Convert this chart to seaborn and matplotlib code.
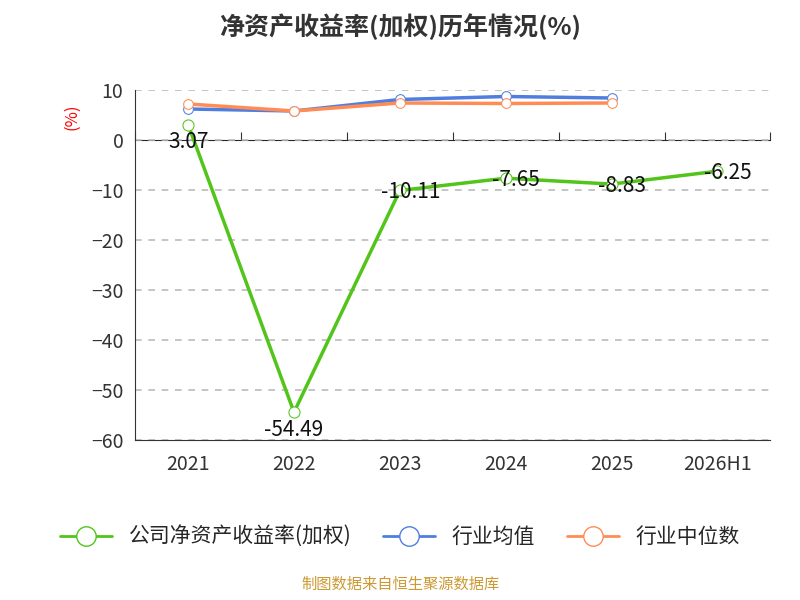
import matplotlib
matplotlib.use("Agg")
import matplotlib.pyplot as plt
import seaborn as sns
import pandas as pd
from matplotlib.lines import Line2D

years = ['2021', '2022', '2023', '2024', '2025', '2026H1']
company = [3.07, -54.49, -10.11, -7.65, -8.83, -6.25]
ind_mean = [6.2, 5.8, 8.1, 8.7, 8.4]
ind_median = [7.2, 5.8, 7.4, 7.3, 7.4]

sns.set_style('white')
plt.rcParams['font.family'] = ['Noto Sans CJK SC', 'DejaVu Sans']

fig = plt.figure(figsize=(8, 6), dpi=100)
ax = fig.add_axes([0.169, 0.267, 0.794, 0.583])

x = list(range(len(years)))
df = pd.DataFrame({'x': x, 'v': company})
sns.lineplot(data=df, x='x', y='v', ax=ax, color='#52c41a', lw=2.5, marker='o',
             markersize=8, markerfacecolor='white', markeredgecolor='#52c41a', zorder=3)
sns.lineplot(x=x[:5], y=ind_mean, ax=ax, color='#4e7fe0', lw=2.5, marker='o',
             markersize=7, markerfacecolor='white', markeredgecolor='#4e7fe0', zorder=3)
sns.lineplot(x=x[:5], y=ind_median, ax=ax, color='#ff8c55', lw=2.5, marker='o',
             markersize=7, markerfacecolor='white', markeredgecolor='#ff8c55', zorder=4)

for xi, v in zip(x, company):
    dy = -3.5 if xi in (0, 1) else -0.3
    ax.text(xi + 0.1 * (xi > 1), v + dy, f'{v:.2f}', ha='center', va='center',
            fontsize=15, color='#111111', zorder=5)

ax.set_xlim(-0.5, 5.5)
ax.set_ylim(-60, 10)
ax.set_yticks(range(-60, 11, 10))
ax.set_xticks(x)
ax.set_xticklabels(years)
ax.tick_params(axis='both', labelsize=14, colors='#333333', length=5)
ax.tick_params(axis='x', which='major', length=0, pad=10)
ax.set_xticks([i + 0.5 for i in range(-1, 6)], minor=True)
ax.tick_params(axis='x', which='minor', length=6, color='#333333')
ax.set_xlabel('')
ax.set_ylabel('')
ax.yaxis.grid(True, ls=(0, (4, 4)), color='#bbbbbb', lw=1.2)
for s in ['top', 'right']:
    ax.spines[s].set_visible(False)
ax.spines['left'].set_color('#333333')
ax.spines['bottom'].set_color('#333333')

# zero line with its own ticks
sec = ax.secondary_xaxis(0.857)
sec.set_xticks([i + 0.5 for i in range(-1, 6)])
sec.set_xticklabels([])
sec.tick_params(length=6, color='#333333')
sec.spines['bottom'].set_color('#333333')

fig.text(0.09, 0.79, '(%)', color='red', fontsize=12, rotation=90, ha='center')
fig.text(0.5, 0.955, '净资产收益率(加权)历年情况(%)', ha='center', va='center',
         fontsize=18, fontweight='bold', color='#333333')

handles = [Line2D([], [], color=c, lw=2, marker='o', markersize=14,
                  markerfacecolor='white', markeredgecolor=c)
           for c in ['#52c41a', '#4e7fe0', '#ff8c55']]
fig.legend(handles, ['公司净资产收益率(加权)', '行业均值', '行业中位数'],
           loc='center', bbox_to_anchor=(0.5, 0.105), ncol=3, frameon=False,
           fontsize=15, handlelength=2.5, columnspacing=1.5)
fig.text(0.5, 0.018, '制图数据来自恒生聚源数据库', ha='center', fontsize=11, color='#cc9933')

fig.savefig('out.png', dpi=100)
